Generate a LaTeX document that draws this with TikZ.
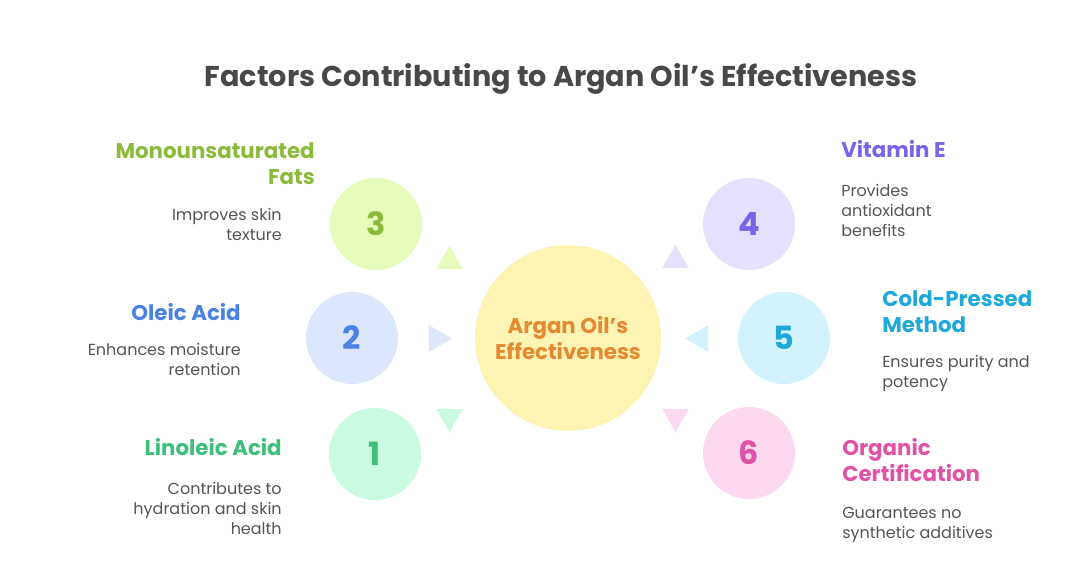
\documentclass[tikz,border=0pt]{standalone}
\usepackage{fontspec}
\setmainfont{Poppins}
\usetikzlibrary{shapes.geometric}
\definecolor{limF}{HTML}{E7FBBA}
\definecolor{limT}{HTML}{8CBB3C}
\definecolor{bluF}{HTML}{DDE7FC}
\definecolor{bluT}{HTML}{4A82E3}
\definecolor{grnF}{HTML}{C9FBE1}
\definecolor{grnT}{HTML}{3DBF7A}
\definecolor{purF}{HTML}{E5E0FD}
\definecolor{purT}{HTML}{7B62E8}
\definecolor{cyaF}{HTML}{D2F3FD}
\definecolor{cyaT}{HTML}{1EA9DA}
\definecolor{pnkF}{HTML}{FDD9EF}
\definecolor{pnkT}{HTML}{E052A6}
\definecolor{ylwF}{HTML}{FDF4B3}
\definecolor{ylwT}{HTML}{E38A33}
\definecolor{titlegray}{HTML}{484848}
\definecolor{bodygray}{HTML}{555555}

\begin{document}
\begin{tikzpicture}[x=0.75pt,y=-0.75pt,
  numdot/.style={circle,inner sep=0pt,minimum size=69pt,font=\bfseries\fontsize{24}{24}\selectfont},
  pointer/.style={regular polygon,regular polygon sides=3,inner sep=0pt,minimum size=23pt},
  headtext/.style={inner sep=0pt,font=\bfseries\fontsize{16}{20}\selectfont},
  bodytext/.style={inner sep=0pt,text=bodygray,font=\fontsize{12}{15}\selectfont}]
\useasboundingbox (0,0) rectangle (1083,570);

\node[anchor=base,text=titlegray,font=\bfseries\fontsize{21.5}{24}\selectfont] (title) at (561,87) {Factors Contributing to Argan Oil's Effectiveness};

\node[circle,inner sep=0pt,minimum size=139.5pt,fill=ylwF,text=ylwT,align=center,font=\bfseries\fontsize{16}{20}\selectfont] (oil) at (568,338) {Argan Oil's\\Effectiveness};

\foreach \n/\x/\y/\col in {1/375/454/grn,2/352/338/blu,3/376/224/lim,4/749/224/pur,5/784/338/cya,6/749/453/pnk}
	\node[numdot,fill=\col F,text=\col T] (c\n) at (\x,\y) {\n};

\node[pointer,fill=limF] (p3) at (449.5,261.3) {};
\node[pointer,fill=bluF,shape border rotate=-90] (p2) at (436.7,338.5) {};
\node[pointer,fill=grnF,shape border rotate=180] (p1) at (449.5,416.7) {};
\node[pointer,fill=purF] (p4) at (675.5,260.3) {};
\node[pointer,fill=cyaF,shape border rotate=90] (p5) at (700.3,338.5) {};
\node[pointer,fill=pnkF,shape border rotate=180] (p6) at (675.5,416.7) {};

% left side
\node[headtext,text=limT,align=right,anchor=base east] (h3) at (315,185) {Monounsaturated\\Fats};
\node[bodytext,align=right,anchor=base east] (d3) at (282,241) {Improves skin\\texture};
\node[headtext,text=bluT,align=right,anchor=base east] (h2) at (241,321) {Oleic Acid};
\node[bodytext,align=right,anchor=base east] (d2) at (241,376) {Enhances moisture\\retention};
\node[headtext,text=grnT,align=right,anchor=base east] (h1) at (282,456) {Linoleic Acid};
\node[bodytext,align=right,anchor=base east] (d1) at (282,534) {Contributes to\\hydration and skin\\health};

% right side
\node[headtext,text=purT,align=left,anchor=base west] (h4) at (841,158) {Vitamin E};
\node[bodytext,align=left,anchor=base west] (d4) at (841,237) {Provides\\antioxidant\\benefits};
\node[headtext,text=cyaT,align=left,anchor=base west] (h5) at (882,333) {Cold-Pressed\\Method};
\node[bodytext,align=left,anchor=base west] (d5) at (882,388) {Ensures purity and\\potency};
\node[headtext,text=pnkT,align=left,anchor=base west] (h6) at (842,482) {Organic\\Certification};
\node[bodytext,align=left,anchor=base west] (d6) at (842,538) {Guarantees no\\synthetic additives};
\end{tikzpicture}
\end{document}
